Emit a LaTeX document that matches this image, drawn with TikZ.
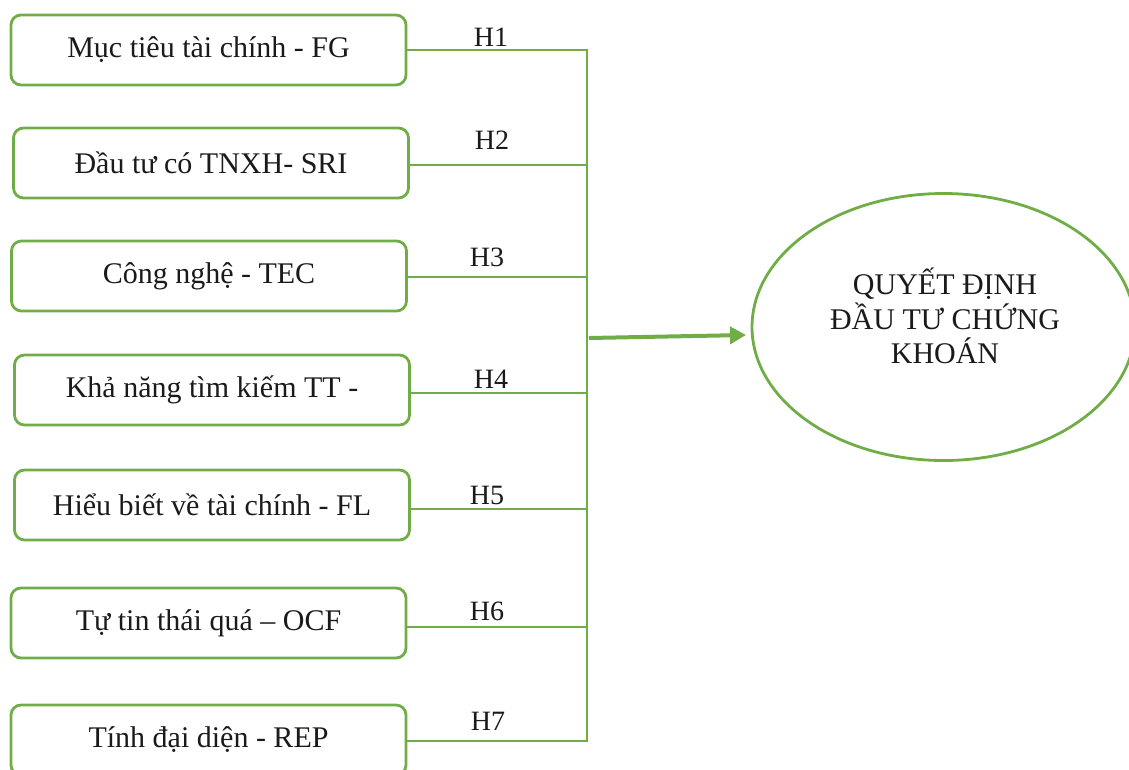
\documentclass[tikz,border=0pt]{standalone}
\usepackage{fontspec}
\setmainfont{Liberation Serif}
\usetikzlibrary{arrows.meta,shapes.geometric}
\definecolor{grn}{HTML}{70AD47}
\definecolor{txt}{HTML}{1A1A1A}
\tikzset{
  fbox/.style={draw=grn, line width=2.8pt, rounded corners=10pt, minimum width=395pt, minimum height=70pt, inner sep=0pt, text=txt, font=\fontsize{30}{35}\selectfont},
  conn/.style={draw=grn, line width=2.4pt},
  hlab/.style={text=txt, font=\fontsize{28}{30}\selectfont, inner sep=0pt},
  goal/.style={draw=grn, line width=2.8pt, ellipse, minimum width=383pt, minimum height=267pt, inner sep=0pt},
  goaltext/.style={text=txt, align=center, font=\fontsize{30}{34.5}\selectfont, inner sep=0pt}
}
\begin{document}
\begin{tikzpicture}[x=1pt,y=-1pt]
\useasboundingbox (0,0) rectangle (1129,769);
\node[fbox] (b1) at (208.5,50) {Mục tiêu tài chính - FG};
\node[fbox] (b2) at (211,163) {Đầu tư có TNXH- SRI};
\node[fbox] (b3) at (209,276) {Công nghệ - TEC};
\node[fbox] (b4) at (212,390) {Khả năng tìm kiếm TT -};
\node[fbox] (b5) at (212,505) {Hiểu biết về tài chính - FL};
\node[fbox] (b6) at (208.5,623) {Tự tin thái quá – OCF};
\node[fbox] (b7) at (208.5,740) {Tính đại diện - REP};
\node[goal] (g) at (943.5,327) {};
\node[goaltext] (gt) at (945,316) {QUYẾT ĐỊNH\\ĐẦU TƯ CHỨNG\\KHOÁN};
\coordinate (v1) at (587,50);
\coordinate (v2) at (587,165);
\coordinate (v3) at (587,277);
\coordinate (v4) at (587,393);
\coordinate (v5) at (587,509);
\coordinate (v6) at (587,627);
\coordinate (v7) at (587,741);
\coordinate (va) at (589,338);
\coordinate (tip) at (746,335);
\draw[conn] (b1.east |- v1) -- (v1);
\draw[conn] (b2.east |- v2) -- (v2);
\draw[conn] (b3.east |- v3) -- (v3);
\draw[conn] (b4.east |- v4) -- (v4);
\draw[conn] (b5.east |- v5) -- (v5);
\draw[conn] (b6.east |- v6) -- (v6);
\draw[conn] (b7.east |- v7) -- (v7);
\draw[conn, line cap=rect] (v1) -- (v7);
\draw[grn, line width=4pt, -{Triangle[length=16pt,width=17pt]}] (va) -- (tip);
\node[hlab] (h1) at (491,37) {H1};
\node[hlab] (h2) at (492,140) {H2};
\node[hlab] (h3) at (487,257) {H3};
\node[hlab] (h4) at (491,379) {H4};
\node[hlab] (h5) at (487,495) {H5};
\node[hlab] (h6) at (487,611) {H6};
\node[hlab] (h7) at (488,721) {H7};
\end{tikzpicture}
\end{document}
